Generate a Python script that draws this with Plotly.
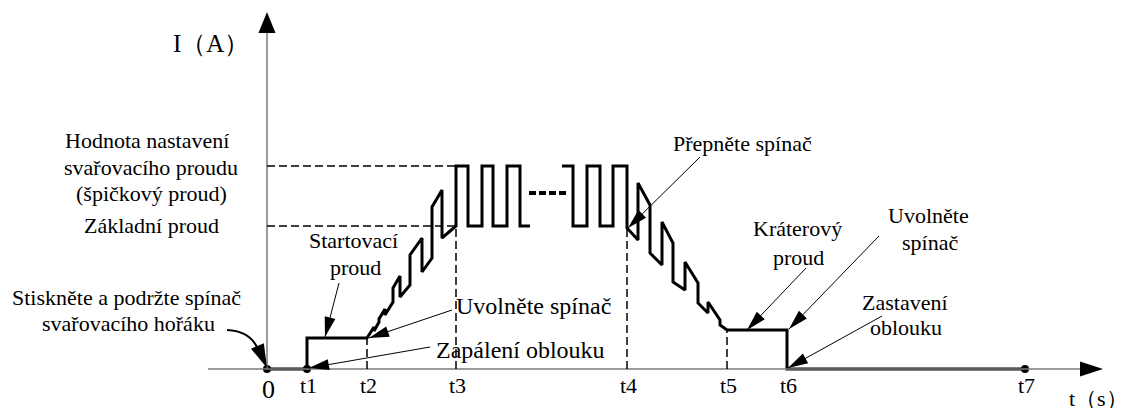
import math
import plotly.graph_objects as go

# ---------------- data (time in drawing units, current in drawing units) -------------
tick_labels = ["t1", "t2", "t3", "t4", "t5", "t6", "t7"]
tick_t = [40, 100, 189, 360, 460, 520, 758]

I_peak = 203     # welding current setting (peak)
I_base = 143     # base current
I_start = 31     # start current
I_crater = 39    # crater current

# waveform: start -> ramp up -> pulses ... pulses -> ramp down -> crater -> stop
wave_t = [0, 40, 40, 100, 107, 107, 112, 112, 118, 118, 126, 126, 133, 133, 143, 143,
          155, 155, 165, 165, 175, 175, 189, 189, 201, 201, 215, 215, 226, 226, 240, 240,
          253, 253, 263, None,
          295, 306, 306, 320, 320, 333, 333, 346, 346, 360, 360, 371, 371, 383, 383, 395,
          395, 406, 406, 418, 418, 431, 431, 441, 441, 453, 453, 460, 520, 520, 758]
wave_I = [0, 0, 31, 31, 42, 38, 47, 50, 60, 54, 67, 81, 93, 72, 84, 114,
          131, 97, 111, 162, 179, 131, 143, 203, 203, 143, 143, 203, 203, 143, 143, 203,
          203, 143, 143, None,
          203, 203, 143, 143, 203, 203, 143, 143, 203, 203, 141, 129, 186, 164, 116, 104,
          147, 126, 87, 79, 107, 86, 66, 56, 67, 49, 44, 39, 39, 0, 0]

gap_t = [262, 299]
gap_I = [176, 176]

event_t = [0, 40, 758]
event_I = [0, 0, 0]

guide_t = [100, 189, 360, 460]
guide_top = [31, 143, 141, 39]

# ---------------- figure ----------------
FONT = "Liberation Serif"
fig = go.Figure()

shapes = []
AX = "#7a7a7a"
# axes
shapes.append(dict(type="line", x0=-59, y0=0, x1=815, y1=0, line=dict(color=AX, width=1.5)))
shapes.append(dict(type="line", x0=0, y0=0, x1=0, y1=338, line=dict(color=AX, width=1.5)))
# axis arrowheads
shapes.append(dict(type="path", path="M 836 0 L 813 7.5 L 813 -7.5 Z", fillcolor="black",
                   line=dict(color="black", width=0)))
shapes.append(dict(type="path", path="M 0 357 L -8.5 336 L 8.5 336 Z", fillcolor="black",
                   line=dict(color="black", width=0)))

# dashed level lines
for lvl in (I_peak, I_base):
    shapes.append(dict(type="line", x0=0, x1=tick_t[2], y0=lvl, y1=lvl,
                       line=dict(color="black", width=1.5, dash="8px,4px")))
for gt, top in zip(guide_t, guide_top):
    shapes.append(dict(type="line", x0=gt, x1=gt, y0=0, y1=top,
                       line=dict(color="black", width=1.5, dash="8px,4px")))

fig.add_trace(go.Scatter(x=wave_t, y=wave_I, mode="lines",
                         line=dict(color="black", width=3), connectgaps=False,
                         hoverinfo="skip"))
fig.add_trace(go.Scatter(x=gap_t, y=gap_I, mode="lines",
                         line=dict(color="black", width=4, dash="7px,3px"),
                         hoverinfo="skip"))
fig.add_trace(go.Scatter(x=event_t, y=event_I, mode="markers",
                         marker=dict(color="black", size=8), hoverinfo="skip"))

# callout arrows: (tail, tip)
callouts = [
    ((72, 86), (58, 32)),
    ((185, 59), (102, 31)),
    ((163, 22), (42, 1)),
    ((433, 212), (361, 141)),
    ((539, 101), (480, 39)),
    ((612, 133), (522, 40)),
    ((615, 53), (521, 1)),
]


def head(tip, frm, L=20, W=11):
    ux, uy = frm[0] - tip[0], frm[1] - tip[1]
    n = math.hypot(ux, uy)
    ux, uy = ux / n, uy / n
    bx, by = tip[0] + ux * L, tip[1] + uy * L
    px, py = -uy, ux
    c1 = (bx + px * W / 2, by + py * W / 2)
    c2 = (bx - px * W / 2, by - py * W / 2)
    return dict(type="path",
                path=f"M {tip[0]} {tip[1]} L {c1[0]:.2f} {c1[1]:.2f} L {c2[0]:.2f} {c2[1]:.2f} Z",
                fillcolor="black", line=dict(color="black", width=0))


for tail, tip in callouts:
    shapes.append(dict(type="line", x0=tail[0], y0=tail[1], x1=tip[0], y1=tip[1],
                       line=dict(color="black", width=1)))
    shapes.append(head(tip, tail))

# curved arrow for torch switch press
shapes.append(dict(type="path", path="M -40 39 Q -15 38 -8 17",
                   line=dict(color="black", width=2)))
shapes.append(head((0, 1), (-10, 24), L=24, W=14))

# ---------------- texts ----------------
texts = [
    ("I（A）", -56, 326, 25, "center"),
    ("Hodnota nastavení", -120, 229, 22, "center"),
    ("svařovacího proudu", -116, 202, 22, "center"),
    ("(špičkový proud)", -116, 176, 22, "center"),
    ("Základní proud", -116, 144, 22, "center"),
    ("Stiskněte a podržte spínač", -141, 72, 22, "center"),
    ("svařovacího hořáku", -139, 46, 22, "center"),
    ("0", 1, -20, 26, "center"),
    ("t（s）", 862, -29, 22, "right"),
    ("Startovací", 86, 129, 22, "center"),
    ("proud", 88, 102, 22, "center"),
    ("Uvolněte spínač", 266, 63, 24, "center"),
    ("Zapálení oblouku", 253, 19, 24, "center"),
    ("Přepněte spínač", 475, 226, 22, "center"),
    ("Kráterový", 530, 141, 22, "center"),
    ("proud", 531, 112, 22, "center"),
    ("Uvolněte", 661, 154, 22, "center"),
    ("spínač", 663, 127, 22, "center"),
    ("Zastavení", 638, 67, 22, "center"),
    ("oblouku", 639, 42, 22, "center"),
]
annotations = [dict(text=t, x=x, y=y, xref="x", yref="y", showarrow=False,
                    xanchor=xa, yanchor="middle", borderpad=0,
                    font=dict(family=FONT, size=s, color="black")) for t, x, y, s, xa in texts]
for lab, tt in zip(tick_labels, tick_t):
    annotations.append(dict(text=lab, x=tt + 1, y=-16, xref="x", yref="y", showarrow=False,
                            xanchor="center", yanchor="middle",
                            font=dict(family=FONT, size=22, color="black")))

fig.update_layout(
    width=1131, height=408,
    margin=dict(l=0, r=0, t=0, b=0),
    paper_bgcolor="white", plot_bgcolor="white",
    showlegend=False,
    font=dict(family=FONT),
    xaxis=dict(range=[-267, 864], visible=False, fixedrange=True),
    yaxis=dict(range=[-39, 369], visible=False, fixedrange=True),
    shapes=shapes,
    annotations=annotations,
)

fig.write_html("out.html", config={"displayModeBar": False},
               post_script="document.body.style.margin='0';")
